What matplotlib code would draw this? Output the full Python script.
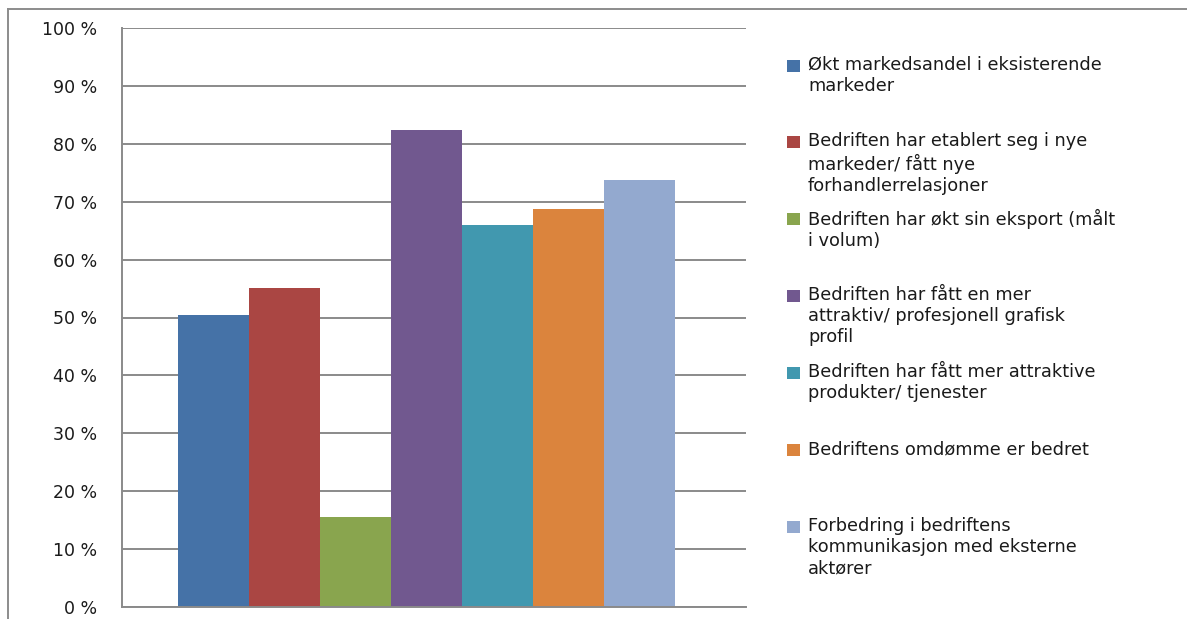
import matplotlib
matplotlib.use("Agg")
import matplotlib.pyplot as plt
from matplotlib.lines import Line2D
from matplotlib.patches import Rectangle

# Share of companies reporting each effect (percent)
labels = [
    "Økt markedsandel i eksisterende\nmarkeder",
    "Bedriften har etablert seg i nye\nmarkeder/ fått nye\nforhandlerrelasjoner",
    "Bedriften har økt sin eksport (målt\ni volum)",
    "Bedriften har fått en mer\nattraktiv/ profesjonell grafisk\nprofil",
    "Bedriften har fått mer attraktive\nprodukter/ tjenester",
    "Bedriftens omdømme er bedret",
    "Forbedring i bedriftens\nkommunikasjon med eksterne\naktører",
]
values = [50.4, 55.1, 15.5, 82.4, 66.0, 68.8, 73.8]
colors = ["#4572A7", "#AA4643", "#89A54E", "#71588F", "#4198AF", "#DB843D", "#93A9CF"]
yticks = list(range(0, 101, 10))
ytick_labels = [f"{t} %" for t in yticks]

W, H = 1187, 619
fig = plt.figure(figsize=(W / 100, H / 100), dpi=100)
fig.patch.set_facecolor("white")

def fx(px):
    return px / W

def fy(py):
    return 1 - py / H

# Plot area
ax = fig.add_axes([fx(122), fy(606.7), fx(746) - fx(122), fy(28.3) - fy(606.7)])
grid_color = "#8a8a8a"
for t in yticks:
    ax.axhline(t, color=grid_color, lw=1.4, zorder=1)

positions = list(range(len(values)))
ax.bar(positions, values, width=1.0, color=colors, zorder=2, linewidth=0)

ax.set_xlim(-1.283, 7.493)
ax.set_ylim(0, 100)
ax.set_yticks(yticks)
ax.set_yticklabels(ytick_labels, fontsize=12.5, color="#1a1a1a")
ax.set_xticks([])
ax.tick_params(axis="y", length=0, pad=18)
for side in ("top", "right"):
    ax.spines[side].set_visible(False)
ax.spines["left"].set_color(grid_color)
ax.spines["bottom"].set_color(grid_color)
ax.spines["left"].set_linewidth(1.4)
ax.spines["bottom"].set_linewidth(1.4)

# Outer chart frame (top and left edges)
frame_color = "#8c8c8c"
fig.add_artist(Line2D([fx(8), 1.0], [fy(9), fy(9)], color=frame_color, lw=1.4))
fig.add_artist(Line2D([fx(8), fx(8)], [fy(9), 0.0], color=frame_color, lw=1.4))

# Legend with entries at a fixed spacing
first_y = 65.5
step = 76.9
for i, (lab, col) in enumerate(zip(labels, colors)):
    yc = first_y + i * step
    fig.add_artist(Rectangle((fx(787), fy(yc + 6)), fx(13), fy(0) - fy(12),
                             facecolor=col, edgecolor="none"))
    fig.text(fx(808), fy(yc - 10), lab, fontsize=12.8, color="#1a1a1a",
             va="top", ha="left", linespacing=1.22)

fig.savefig("out.png", dpi=100, facecolor="white")
